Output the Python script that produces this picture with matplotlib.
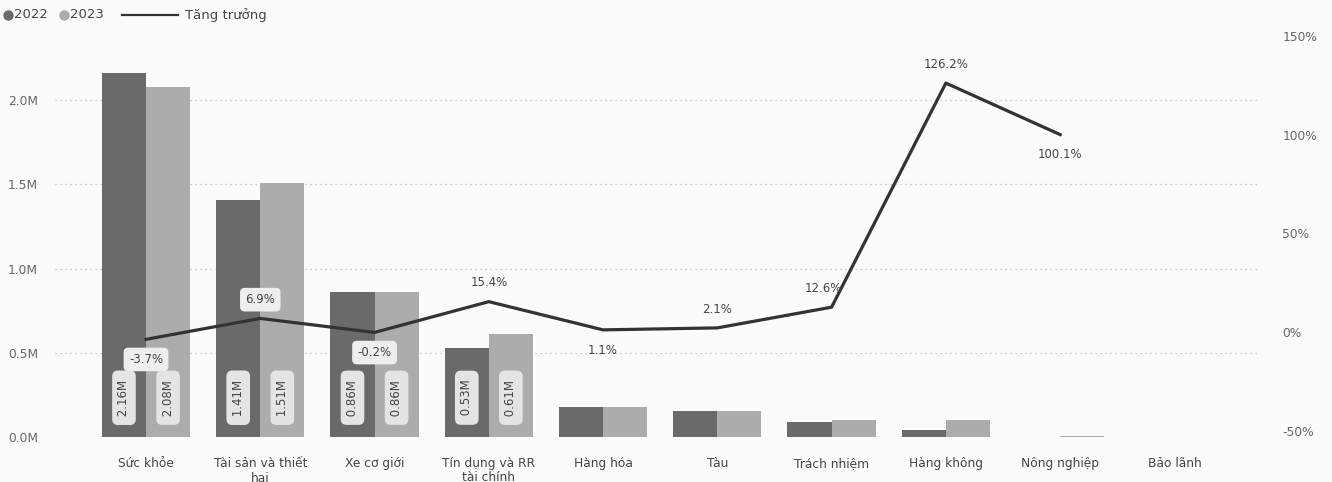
import numpy as np
import matplotlib.pyplot as plt
from matplotlib.lines import Line2D

categories = ["Sức khỏe", "Tài sản và thiết\nhại", "Xe cơ giới", "Tín dụng và RR\ntài chính",
              "Hàng hóa", "Tàu", "Trách nhiệm", "Hàng không", "Nông nghiệp", "Bảo lãnh"]
val_2022 = [2.16, 1.41, 0.86, 0.53, 0.18, 0.155, 0.09, 0.045, 0.003, 0.0]
val_2023 = [2.08, 1.51, 0.86, 0.61, 0.182, 0.158, 0.101, 0.102, 0.006, 0.0]
growth = [-3.7, 6.9, -0.2, 15.4, 1.1, 2.1, 12.6, 126.2, 100.1, None]
bar_labels_2022 = ["2.16M", "1.41M", "0.86M", "0.53M"]
bar_labels_2023 = ["2.08M", "1.51M", "0.86M", "0.61M"]
# where the growth label sits: above/below, and whether it has a box
growth_pos = ["below", "above", "below", "above", "below", "above", "above", "above", "below", None]
growth_box = [True, True, True, False, False, False, False, False, False, False]

c2022 = "#6a6a6a"
c2023 = "#acacac"
cline = "#333333"
ctext = "#666666"
bg = "#fbfbfb"

plt.rcParams['font.family'] = ['DejaVu Sans']

fig = plt.figure(figsize=(13.32, 4.82), dpi=100, facecolor=bg)
ax = fig.add_axes([0.041, 0.093, 0.905, 0.832], facecolor=bg)
ax2 = ax.twinx()

x = np.arange(len(categories))
w = 0.386
ax.bar(x - w / 2, val_2022, width=w, color=c2022, zorder=2)
ax.bar(x + w / 2, val_2023, width=w, color=c2023, zorder=2)

ax.set_xlim(-0.8, 9.75)
ax.set_ylim(0, 2.38)
ax.set_yticks([0, 0.5, 1.0, 1.5, 2.0])
ax.set_yticklabels(["0.0M", "0.5M", "1.0M", "1.5M", "2.0M"])
ax.yaxis.grid(True, linestyle=(0, (1, 3)), color="#bbbbbb", linewidth=0.9, zorder=0)
ax.set_axisbelow(True)
ax.set_xticks(x)
ax.set_xticklabels(categories, fontsize=8.7, color="#444444", linespacing=1.1)
ax.tick_params(axis="both", length=0, colors=ctext, labelsize=8.8)
ax.tick_params(axis="x", pad=14, colors="#444444")
ax.tick_params(axis="y", pad=12)
for s in ax.spines.values():
    s.set_visible(False)
for s in ax2.spines.values():
    s.set_visible(False)

# bar value labels (rotated, boxed)
for i, (a, b) in enumerate(zip(bar_labels_2022, bar_labels_2023)):
    for xx, t in ((i - w / 2, a), (i + w / 2, b)):
        ax.text(xx, 0.234, f" {t} ", rotation=90, ha="center", va="center", fontsize=8.5,
                color="#444444", zorder=4,
                bbox=dict(boxstyle="round,pad=0.45,rounding_size=0.5", fc="#e4e4e4", ec="none"))

# growth line
gx = [i for i, g in enumerate(growth) if g is not None]
gy = [g for g in growth if g is not None]
ax2.plot(gx, gy, color=cline, linewidth=2.3, zorder=3)
ax2.set_ylim(-53.3, 148.7)
ax2.set_yticks([-50, 0, 50, 100, 150])
ax2.set_yticklabels(["-50%", "0%", "50%", "100%", "150%"])
ax2.tick_params(axis="y", length=0, colors=ctext, labelsize=8.8, pad=16)

for i, g in enumerate(growth):
    if g is None:
        continue
    off = 13.5 if growth_pos[i] == "above" else -14.5
    dx = -6 if i == 6 else 0
    kw = dict(ha="center", va="center", fontsize=8.5, color="#444444", zorder=5)
    if growth_box[i]:
        kw["bbox"] = dict(boxstyle="round,pad=0.45,rounding_size=0.4", fc="#eeeeee", ec="none")
    ax2.annotate(f"{g}%", (i, g), xytext=(dx, off), textcoords="offset points", **kw)

# legend, drawn by hand along the top edge
ly = 1 - 15 / 482
def fx(px):
    return px / 1332
fig.add_artist(Line2D([fx(8)], [ly], marker="o", color=c2022, markersize=6.5, linestyle="none"))
fig.text(fx(14), ly, "2022", fontsize=9.5, color="#444444", va="center")
fig.add_artist(Line2D([fx(64)], [ly], marker="o", color=c2023, markersize=6.5, linestyle="none"))
fig.text(fx(70), ly, "2023", fontsize=9.5, color="#444444", va="center")
fig.add_artist(Line2D([fx(122), fx(178)], [ly, ly], color=cline, linewidth=1.6))
fig.text(fx(185), ly, "Tăng trưởng", fontsize=9.5, color="#444444", va="center")

fig.savefig("out.png", dpi=100, facecolor=bg)
